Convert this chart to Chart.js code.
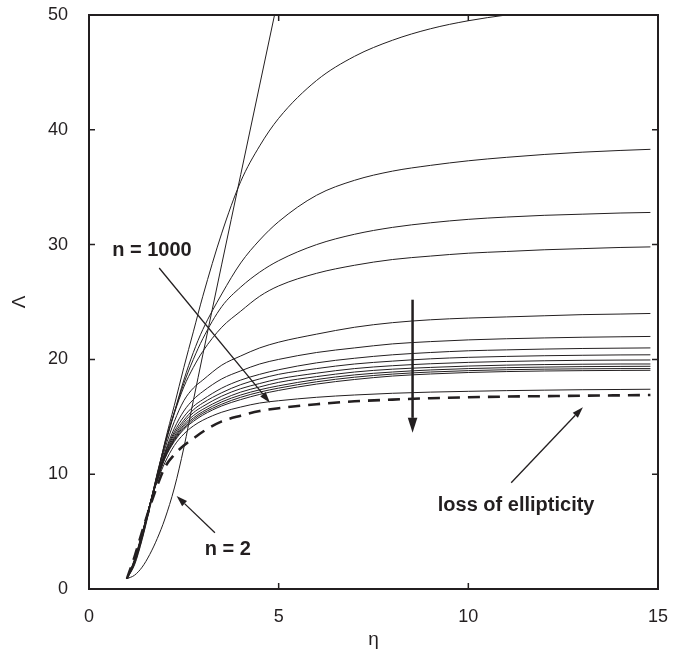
<!DOCTYPE html>
<html lang="en">
<head>
<meta charset="UTF-8" />
<title>Λ versus η</title>
<script src="https://cdn.jsdelivr.net/npm/chart.js"></script>
<style>
  body { margin: 0; background: #fff; }
  canvas { display: block; }
</style>
</head>
<body>
<canvas id="chart" width="683" height="654"></canvas>
<script>
// stretch values shared by all curves
const eta = [1.0, 1.2, 1.4, 1.6, 1.8, 2.0, 2.25, 2.5, 2.75, 3.0, 3.5, 4.0, 4.5, 5.0, 6.0, 7.0, 8.0, 9.0, 10, 11, 12, 13, 14, 14.8];

// solid curves, from n = 2 down to n = 1000
const n2    = [0.9, 1.2, 1.9, 3.0, 4.4, 6.1, 8.8, 12.3, 16.4, 20.4, 28.3, 36.1, 43.9, 51.7, null, null, null, null, null, null, null, null, null, null];
const curveA = [0.9, 2.1, 4.3, 7.0, 9.8, 12.8, 16.0, 19.3, 22.4, 25.5, 31.0, 35.5, 38.6, 41.0, 44.3, 46.4, 47.8, 48.8, 49.5, 50.0, 50.4, 50.7, 51.0, 51.2];
const curveB = [0.9, 2.2, 4.4, 7.1, 10.0, 12.7, 15.4, 18.2, 20.6, 22.6, 25.7, 28.4, 30.4, 32.0, 34.3, 35.6, 36.4, 36.9, 37.3, 37.6, 37.85, 38.05, 38.2, 38.3];
const curveC = [0.9, 2.3, 4.5, 7.2, 10.1, 12.6, 15.4, 17.9, 20.0, 21.8, 24.6, 26.3, 27.6, 28.6, 30.0, 30.9, 31.5, 31.9, 32.2, 32.4, 32.55, 32.65, 32.75, 32.8];
const curveD = [0.9, 2.3, 4.6, 7.3, 10.0, 12.5, 15.3, 17.6, 19.3, 20.7, 22.8, 24.2, 25.5, 26.4, 27.5, 28.2, 28.7, 29.0, 29.25, 29.4, 29.55, 29.65, 29.75, 29.8];
const curveE = [0.9, 2.4, 4.7, 7.3, 9.9, 12.2, 14.6, 16.4, 17.5, 18.2, 19.5, 20.3, 21.0, 21.5, 22.2, 22.8, 23.2, 23.45, 23.6, 23.7, 23.8, 23.9, 23.95, 24.0];
const curveF = [0.9, 2.4, 4.7, 7.3, 9.8, 11.9, 14.0, 15.5, 16.5, 17.2, 18.3, 19.0, 19.6, 20.0, 20.6, 21.0, 21.35, 21.55, 21.7, 21.8, 21.87, 21.93, 21.97, 22.0];
const curveG = [0.9, 2.4, 4.7, 7.3, 9.7, 11.8, 13.7, 15.0, 15.9, 16.5, 17.5, 18.2, 18.7, 19.1, 19.7, 20.1, 20.4, 20.6, 20.75, 20.83, 20.9, 20.95, 20.98, 21.0];
const curveH = [0.9, 2.4, 4.7, 7.3, 9.7, 11.7, 13.5, 14.7, 15.6, 16.2, 17.1, 17.8, 18.3, 18.7, 19.2, 19.6, 19.85, 20.05, 20.18, 20.26, 20.32, 20.36, 20.39, 20.4];
const curveI = [0.9, 2.4, 4.7, 7.3, 9.6, 11.6, 13.3, 14.5, 15.35, 15.9, 16.8, 17.45, 17.9, 18.3, 18.8, 19.2, 19.45, 19.62, 19.74, 19.82, 19.88, 19.92, 19.94, 19.95];
const curveJ = [0.9, 2.4, 4.7, 7.3, 9.6, 11.5, 13.15, 14.3, 15.1, 15.65, 16.5, 17.15, 17.6, 18.0, 18.5, 18.9, 19.15, 19.3, 19.42, 19.5, 19.55, 19.58, 19.6, 19.6];
const curveK = [0.9, 2.5, 4.8, 7.3, 9.55, 11.45, 13.05, 14.15, 14.9, 15.45, 16.3, 16.9, 17.35, 17.7, 18.25, 18.65, 18.9, 19.08, 19.2, 19.28, 19.33, 19.37, 19.39, 19.4];
const curveL = [0.9, 2.5, 4.8, 7.3, 9.5, 11.4, 12.95, 14.0, 14.75, 15.3, 16.1, 16.7, 17.15, 17.5, 18.05, 18.45, 18.72, 18.9, 19.02, 19.1, 19.15, 19.18, 19.2, 19.2];
const curveM = [0.9, 2.5, 4.8, 7.3, 9.5, 11.35, 12.85, 13.9, 14.6, 15.15, 15.95, 16.5, 16.95, 17.3, 17.85, 18.25, 18.55, 18.73, 18.86, 18.94, 18.99, 19.02, 19.04, 19.05];
const n1000 = [0.9, 2.6, 4.9, 7.3, 9.4, 11.0, 12.5, 13.5, 14.2, 14.7, 15.4, 15.85, 16.2, 16.4, 16.7, 16.9, 17.05, 17.15, 17.22, 17.28, 17.32, 17.36, 17.38, 17.4];

// dashed limit curve
const ellipticity = [0.9, 2.8, 5.0, 7.1, 9.0, 10.6, 11.7, 12.5, 13.1, 13.7, 14.6, 15.1, 15.5, 15.75, 16.1, 16.35, 16.5, 16.62, 16.7, 16.76, 16.8, 16.84, 16.87, 16.9];

const xTicks = [0, 5, 10, 15];
const yTicks = [0, 10, 20, 30, 40, 50];

// text notes and arrows, in data units
const notes = [
  { text: 'n = 1000', x: 1.66, y: 29.5 },
  { text: 'n = 2', x: 3.66, y: 3.4 },
  { text: 'loss of ellipticity', x: 11.26, y: 7.3 }
];
const arrows = [
  { from: [1.85, 27.96], to: [4.77, 16.23], width: 1.3, head: 11 },
  { from: [3.32, 4.9], to: [2.31, 8.1], width: 1.3, head: 11 },
  { from: [8.53, 25.2], to: [8.53, 13.6], width: 2.5, head: 15 },
  { from: [11.13, 9.26], to: [13.02, 15.83], width: 1.3, head: 11 }
];

const ink = '#231f20';
const fontFamily = '"Liberation Sans", Arial, sans-serif';

function pts(ys) {
  return eta.map((x, i) => ({ x: x, y: ys[i] }));
}

const solidCurves = [n2, curveA, curveB, curveC, curveD, curveE, curveF, curveG, curveH, curveI, curveJ, curveK, curveL, curveM, n1000];

const datasets = solidCurves.map(c => ({
  data: pts(c),
  borderColor: ink,
  borderWidth: 1,
  pointRadius: 0,
  fill: false,
  spanGaps: false,
  cubicInterpolationMode: 'monotone'
}));

datasets.push({
  data: pts(ellipticity),
  borderColor: ink,
  borderWidth: 2.6,
  borderDash: [12, 8],
  pointRadius: 0,
  fill: false,
  cubicInterpolationMode: 'monotone'
});

const framePlugin = {
  id: 'frame',
  afterDraw(chart) {
    const ctx = chart.ctx;
    const a = chart.chartArea;
    const xs = chart.scales.x;
    const ys = chart.scales.y;
    ctx.save();
    ctx.strokeStyle = ink;
    ctx.lineWidth = 2;
    ctx.strokeRect(a.left, a.top, a.right - a.left, a.bottom - a.top);

    // inward ticks on all four sides
    ctx.lineWidth = 1.5;
    ctx.beginPath();
    xTicks.forEach(v => {
      const px = xs.getPixelForValue(v);
      ctx.moveTo(px, a.bottom); ctx.lineTo(px, a.bottom - 6);
      ctx.moveTo(px, a.top); ctx.lineTo(px, a.top + 6);
    });
    yTicks.forEach(v => {
      const py = ys.getPixelForValue(v);
      ctx.moveTo(a.left, py); ctx.lineTo(a.left + 6, py);
      ctx.moveTo(a.right, py); ctx.lineTo(a.right - 6, py);
    });
    ctx.stroke();

    // arrows
    arrows.forEach(ar => {
      const x1 = xs.getPixelForValue(ar.from[0]), y1 = ys.getPixelForValue(ar.from[1]);
      const x2 = xs.getPixelForValue(ar.to[0]), y2 = ys.getPixelForValue(ar.to[1]);
      const ang = Math.atan2(y2 - y1, x2 - x1);
      const hx = x2 - ar.head * Math.cos(ang), hy = y2 - ar.head * Math.sin(ang);
      ctx.lineWidth = ar.width;
      ctx.beginPath();
      ctx.moveTo(x1, y1);
      ctx.lineTo(hx, hy);
      ctx.stroke();
      const hw = ar.head * 0.32;
      ctx.fillStyle = ink;
      ctx.beginPath();
      ctx.moveTo(x2, y2);
      ctx.lineTo(hx + hw * Math.sin(ang), hy - hw * Math.cos(ang));
      ctx.lineTo(hx - hw * Math.sin(ang), hy + hw * Math.cos(ang));
      ctx.closePath();
      ctx.fill();
    });

    // notes
    ctx.fillStyle = ink;
    ctx.font = 'bold 20px ' + fontFamily;
    ctx.textAlign = 'center';
    ctx.textBaseline = 'middle';
    notes.forEach(n => {
      ctx.fillText(n.text, xs.getPixelForValue(n.x), ys.getPixelForValue(n.y));
    });
    ctx.restore();
  }
};

new Chart(document.getElementById('chart'), {
  type: 'line',
  data: { datasets: datasets },
  options: {
    responsive: false,
    animation: false,
    layout: { padding: { top: 15, right: 25, left: 0, bottom: 0 } },
    plugins: {
      legend: { display: false },
      tooltip: { enabled: false }
    },
    scales: {
      x: {
        type: 'linear',
        min: 0,
        max: 15,
        grid: { display: false, drawTicks: false },
        border: { display: false },
        afterFit(scale) {
          scale.height = 65;
          scale.paddingLeft = 0;
          scale.paddingRight = 0;
        },
        afterBuildTicks(scale) { scale.ticks = xTicks.map(v => ({ value: v })); },
        ticks: { color: ink, padding: 17, maxRotation: 0, font: { family: fontFamily, size: 18 } },
        title: { display: true, text: 'η', color: ink, padding: { top: 0, bottom: 3 }, font: { family: fontFamily, size: 19 } }
      },
      y: {
        type: 'linear',
        min: 0,
        max: 50,
        grid: { display: false, drawTicks: false },
        border: { display: false },
        afterFit(scale) {
          scale.width = 89;
          scale.paddingTop = 0;
          scale.paddingBottom = 0;
        },
        afterBuildTicks(scale) { scale.ticks = yTicks.map(v => ({ value: v })); },
        ticks: { color: ink, padding: 21, font: { family: fontFamily, size: 18 } },
        title: { display: true, text: 'Λ', color: ink, padding: { top: 8, bottom: 0 }, font: { family: fontFamily, size: 19 } }
      }
    }
  },
  plugins: [framePlugin]
});
</script>
</body>
</html>
